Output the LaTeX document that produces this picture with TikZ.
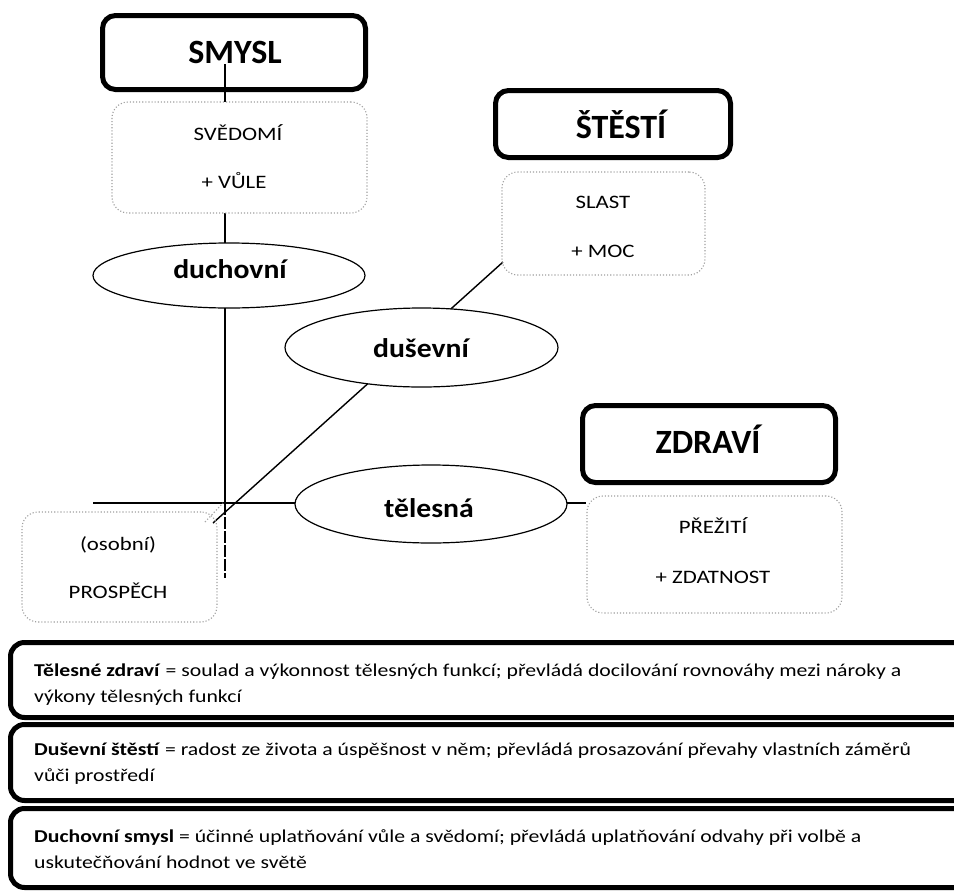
\documentclass[tikz,border=0pt]{standalone}
\usepackage{fontspec}
\setmainfont{Carlito}
\newfontfamily\wfont[FakeStretch=1.2]{Carlito}
\newfontfamily\efont[FakeStretch=1.1]{Carlito}
\usetikzlibrary{shapes.geometric,backgrounds}
\begin{document}
\begin{tikzpicture}[x=1pt,y=-1pt,
  conn/.style={line width=1.4pt, black},
  headbox/.style={draw, line width=5pt, rounded corners=13pt, inner sep=0pt},
  headtxt/.style={anchor=base, inner sep=0pt, font=\fontsize{34}{40}\selectfont\bfseries},
  dotbox/.style={draw=gray!75, line width=1.1pt, dotted, rounded corners=16pt, inner sep=0pt},
  smalltxt/.style={anchor=base, inner sep=0pt, font=\wfont\fontsize{19}{23}\selectfont},
  oval/.style={ellipse, draw, line width=1.2pt, fill=white, inner sep=0pt},
  ovaltxt/.style={anchor=base, inner sep=0pt, font=\efont\bfseries\fontsize{27}{32}\selectfont},
  defbox/.style={draw, line width=5pt, rounded corners=14pt, inner sep=0pt},
  deftxt/.style={anchor=base west, inner sep=0pt, font=\wfont\fontsize{18.1}{26}\selectfont}]
\clip (0,0) rectangle (954,892);

% heading boxes
\node[headbox, minimum width=263pt, minimum height=74pt] (smysl) at (234,52.5) {};
\node[headtxt] (smyslt) at (235,63) {SMYSL};
\node[headbox, minimum width=235pt, minimum height=67pt] (stesti) at (613,124) {};
\node[headtxt] (stestit) at (621,138) {ŠTĚSTÍ};
\node[headbox, minimum width=253pt, minimum height=77pt] (zdravi) at (709,444) {};
\node[headtxt] (zdravit) at (708,453) {ZDRAVÍ};

% dotted boxes
\node[dotbox, fill=white, minimum width=255pt, minimum height=111pt] (svedomi) at (239.5,157.5) {};
\node[smalltxt] (svedomi1) at (238,140) {SVĚDOMÍ};
\node[smalltxt] (svedomi2) at (234,188) {+ VŮLE};
\node[dotbox, minimum width=203pt, minimum height=103pt] (slast) at (603.5,223.5) {};
\node[smalltxt] (slast1) at (603,208) {SLAST};
\node[smalltxt] (slast2) at (603,257) {+ MOC};
\node[dotbox, minimum width=255pt, minimum height=117pt] (prezit) at (714.5,554.5) {};
\node[smalltxt] (prezit1) at (713,533) {PŘEŽITÍ};
\node[smalltxt] (prezit2) at (713,583) {+ ZDATNOST};
\node[dotbox, minimum width=195pt, minimum height=110pt] (prosp) at (119.5,567) {};
\node[smalltxt] (prosp1) at (118,550) {(osobní)};
\node[smalltxt] (prosp2) at (118,598) {PROSPĚCH};

% ellipses
\node[oval, minimum width=272pt, minimum height=65pt] (duch) at (229,275.5) {};
\node[ovaltxt] (ducht) at (230,278) {duchovní};
\node[oval, minimum width=273pt, minimum height=79pt] (dus) at (421.5,347.5) {};
\node[ovaltxt] (dust) at (421,357) {duševní};
\node[oval, minimum width=272pt, minimum height=78pt] (tel) at (431,504) {};
\node[ovaltxt] (telt) at (429,517) {tělesná};

% axis coordinates
\coordinate (vtop) at (225,64);
\coordinate (vmid) at (225,503);
\coordinate (vbot) at (225,578);
\coordinate (hleft) at (93,503);
\coordinate (dtop) at (503,262);
\coordinate (dbot) at (213,523);
\coordinate (ds1) at (205,522);
\coordinate (ds2) at (223,503);

\begin{pgfonlayer}{background}
  \fill[white] (0,0) rectangle (954,892);
  \draw[conn] (vtop) -- (vmid);
  \draw[conn, dash pattern=on 12pt off 2pt] (vmid) -- (vbot);
  \draw[conn] (hleft) -- (prezit.west |- hleft);
  \draw[conn] (dtop) -- (dbot);
  \draw[gray!70, line width=1.2pt, dotted] (ds1) -- (ds2);
\end{pgfonlayer}

% definition boxes
\node[defbox, minimum width=964.5pt, minimum height=75pt] (def1) at (492.75,680) {};
\node[deftxt] (def1a) at (34,676) {\textbf{Tělesné zdraví} = soulad a výkonnost tělesných funkcí; převládá docilování rovnováhy mezi nároky a};
\node[deftxt] (def1b) at (34,702) {výkony tělesných funkcí};
\node[defbox, minimum width=964.5pt, minimum height=76pt] (def2) at (492.75,762.5) {};
\node[deftxt] (def2a) at (34,755) {\textbf{Duševní štěstí} = radost ze života a úspěšnost v něm; převládá prosazování převahy vlastních záměrů};
\node[deftxt] (def2b) at (34,781) {vůči prostředí};
\node[defbox, minimum width=964.5pt, minimum height=79pt] (def3) at (492.75,848) {};
\node[deftxt] (def3a) at (34,842) {\textbf{Duchovní smysl} = účinné uplatňování vůle a svědomí; převládá uplatňování odvahy při volbě a};
\node[deftxt] (def3b) at (34,868) {uskutečňování hodnot ve světě};
\end{tikzpicture}
\end{document}
